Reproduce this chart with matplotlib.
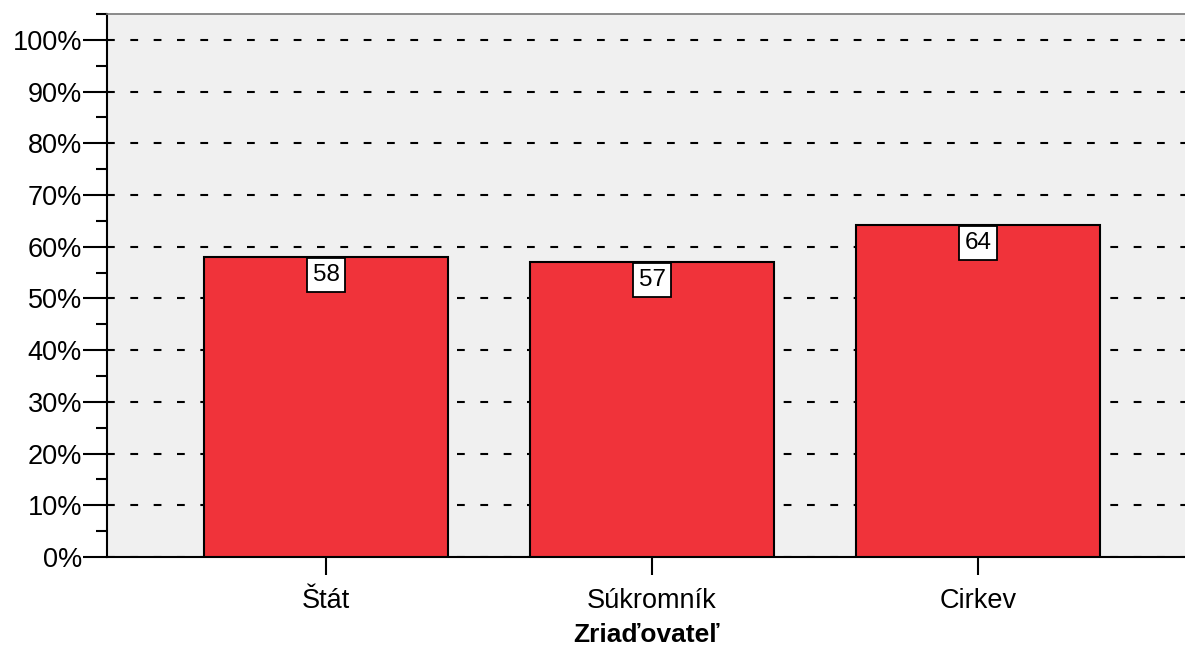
import matplotlib
matplotlib.use("Agg")
import matplotlib.pyplot as plt
from matplotlib.ticker import MultipleLocator

plt.rcParams['font.family'] = ['Liberation Sans', 'DejaVu Sans']
plt.rcParams['lines.scale_dashes'] = False

categories = ['Štát', 'Súkromník', 'Cirkev']
percent = [58.0, 57.0, 64.2]
bar_labels = ['58', '57', '64']
yticks = list(range(0, 101, 10))
ytick_labels = ['%d%%' % t for t in yticks]

fig = plt.figure(figsize=(11.85, 6.48), dpi=100)
ax = fig.add_axes([0.0903, 0.1404, 0.9097, 0.838])
ax.set_facecolor('#f0f0f0')

x = list(range(len(categories)))
ax.bar(x, percent, width=0.75, color='#f0333a', edgecolor='black', linewidth=1.5, zorder=3)

for xi, v, lab in zip(x, percent, bar_labels):
    ax.annotate(lab, xy=(xi, v), xytext=(0, -5), textcoords='offset points',
                ha='center', va='top', fontsize=17.5, zorder=5,
                bbox=dict(boxstyle='square,pad=0.24', facecolor='white',
                          edgecolor='black', linewidth=1.3))

ax.set_xlim(-0.672, 2.635)
ax.set_ylim(0, 105)
ax.set_yticks(yticks)
ax.set_yticklabels(ytick_labels, fontsize=19.5)
ax.yaxis.set_minor_locator(MultipleLocator(5))
ax.set_xticks(x)
ax.set_xticklabels(categories, fontsize=19.5)

ax.yaxis.grid(True, which='major', color='black', linestyle=(0, (5.6, 11.2)), linewidth=1.5, zorder=1)
ax.set_axisbelow(True)

ax.tick_params(axis='y', which='major', length=17, width=1.5, pad=1)
ax.tick_params(axis='y', which='minor', length=8, width=1.5)
ax.tick_params(axis='x', which='major', length=13, width=1.5, pad=9)

ax.spines['left'].set_linewidth(1.5)
ax.spines['bottom'].set_linewidth(1.5)
ax.spines['top'].set_color('#777777')
ax.spines['top'].set_linewidth(1.2)
ax.spines['right'].set_visible(False)

ax.set_xlabel('Zriaďovateľ', fontsize=19, fontweight='bold', labelpad=7)

fig.savefig('out.png', dpi=100)
